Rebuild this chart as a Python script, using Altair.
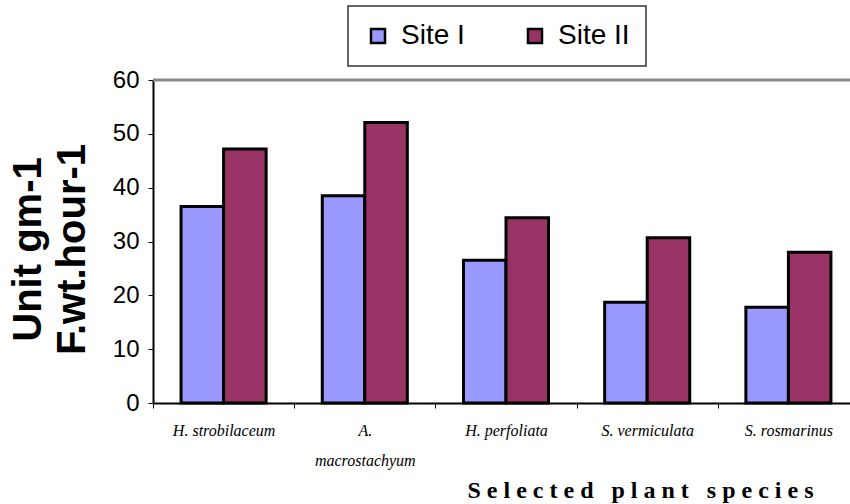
import altair as alt
import pandas as pd

# Species and measured values for the two sites
species = ["H. strobilaceum", "A. macrostachyum", "H. perfoliata", "S. vermiculata", "S. rosmarinus"]
site_labels = ["Site I", "Site II"]
site_1 = [36.5, 38.5, 26.5, 18.7, 17.8]
site_2 = [47.2, 52.1, 34.4, 30.7, 28.0]
colors = ["#9999FF", "#993366"]

rows = []
for i, sp in enumerate(species):
    rows.append({"species": sp, "site": site_labels[0], "value": site_1[i]})
    rows.append({"species": sp, "site": site_labels[1], "value": site_2[i]})
df = pd.DataFrame(rows)

# Letter-spaced axis title (non-breaking spaces so SVG keeps them)
NB = "\u00a0"
x_title = (NB * 3).join(NB.join(word) for word in "Selected plant species".split())

x_enc = alt.X(
    "species:N",
    sort=species,
    scale=alt.Scale(range=[0, 706], paddingInner=0, paddingOuter=0),
    axis=alt.Axis(
        title=x_title,
        titleFont="Liberation Serif",
        titleFontSize=24,
        titleFontWeight="bold",
        titleColor="black",
        titleX=487,
        titleY=87,
        titleAlign="center",
        titleBaseline="middle",
        labelAngle=0,
        labelFont="Liberation Serif",
        labelFontStyle="italic",
        labelFontSize=16,
        labelColor="black",
        labelPadding=14,
        labelLineHeight=30,
        labelExpr="length(datum.label) > 15 ? split(datum.label, ' ') : datum.label",
        tickBand="extent",
        tickSize=5,
        tickColor="black",
        tickWidth=1,
        domainColor="black",
        domainWidth=2,
    ),
)

bars = alt.Chart(df).mark_bar(stroke="black", strokeWidth=3).encode(
    x=x_enc,
    xOffset=alt.XOffset(
        "site:N",
        sort=site_labels,
        scale=alt.Scale(paddingInner=0, paddingOuter=0.66),
    ),
    y=alt.Y(
        "value:Q",
        scale=alt.Scale(domain=[0, 60], nice=False),
        axis=alt.Axis(
            values=[0, 10, 20, 30, 40, 50, 60],
            title=["Unit gm-1", "F.wt.hour-1"],
            titleFont="Liberation Sans",
            titleFontSize=40,
            titleFontWeight="bold",
            titleColor="black",
            titleLineHeight=44,
            titleAngle=-90,
            titleX=-125,
            titleY=169,
            titleAlign="center",
            titleBaseline="middle",
            labelFont="Liberation Sans",
            labelFontSize=24,
            labelColor="black",
            labelPadding=9,
            tickSize=5,
            tickColor="black",
            tickWidth=1,
            domainColor="black",
            domainWidth=2,
            grid=False,
        ),
    ),
    color=alt.Color(
        "site:N",
        sort=site_labels,
        scale=alt.Scale(domain=site_labels, range=colors),
        legend=alt.Legend(
            title=None,
            orient="none",
            direction="horizontal",
            legendX=195,
            legendY=-74,
            symbolType="square",
            symbolSize=196,
            symbolStrokeColor="black",
            symbolStrokeWidth=2.5,
            symbolOpacity=1,
            labelFont="Liberation Sans",
            labelFontSize=28,
            labelColor="black",
            labelOffset=9,
            columnPadding=56,
            padding=16,
            strokeColor="#333333",
            fillColor="white",
        ),
    ),
)

# Gray frame line along the top of the plot area at the axis maximum
top_line = alt.Chart(pd.DataFrame({"y": [60]})).mark_rule(
    color="#888888", strokeWidth=3
).encode(y="y:Q", x=alt.value(0), x2=alt.value(706))

chart = (
    alt.layer(top_line, bars)
    .properties(
        width=697,
        height=323,
        autosize=alt.AutoSizeParams(type="none"),
        padding={"left": 153, "top": 80, "right": 0, "bottom": 101},
        background="white",
    )
    .configure_view(stroke=None)
    .configure_legend(strokeWidth=1.5)
)

chart.save("out.html", embed_options={"renderer": "svg", "actions": False})
